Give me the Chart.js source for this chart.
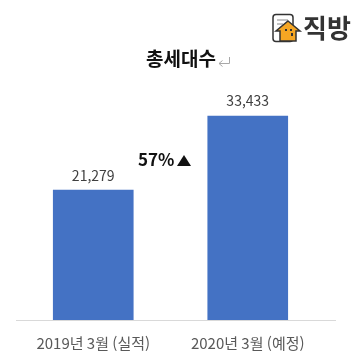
<!DOCTYPE html>
<html lang="ko">
<head>
<meta charset="utf-8">
<title>총세대수</title>
<script src="https://cdn.jsdelivr.net/npm/chart.js@4/dist/chart.umd.min.js"></script>
<style>
  html, body { margin: 0; padding: 0; background: #fff; }
  #wrap { position: relative; width: 358px; height: 355px; }
</style>
</head>
<body>
<div id="wrap"><canvas id="chart" width="358" height="355"></canvas></div>
<script>
const categories = ["2019년 3월 (실적)", "2020년 3월 (예정)"];
const households = [21279, 33433];
const yMax = 40000;
const chartTitle = "총세대수";
const growthLabel = "57%";
const brandName = "직방";

const FONT = '"Noto Sans CJK KR", "Noto Sans", sans-serif';

// value labels above bars, baseline running past the plot, and the text around the chart
const overlay = {
  id: "overlay",
  afterDatasetsDraw(chart) {
    const ctx = chart.ctx;
    const area = chart.chartArea;

    ctx.save();
    ctx.strokeStyle = "#d9d9d9";
    ctx.lineWidth = 1;
    ctx.beginPath();
    ctx.moveTo(16, area.bottom + 0.5);
    ctx.lineTo(336, area.bottom + 0.5);
    ctx.stroke();

    ctx.fillStyle = "#404040";
    ctx.font = "14px " + FONT;
    ctx.textAlign = "center";
    ctx.textBaseline = "bottom";
    chart.getDatasetMeta(0).data.forEach((bar, i) => {
      ctx.fillText(households[i].toLocaleString("en-US"), bar.x, bar.y - 8);
    });

    ctx.fillStyle = "#111";
    ctx.font = "bold 19px " + FONT;
    ctx.textBaseline = "middle";
    ctx.fillText(chartTitle, 181, 59);

    // paragraph mark after the title
    ctx.strokeStyle = "#a8a8a8";
    ctx.beginPath();
    ctx.moveTo(229.5, 57);
    ctx.lineTo(229.5, 63.5);
    ctx.lineTo(219, 63.5);
    ctx.moveTo(222.5, 60.5);
    ctx.lineTo(219, 63.5);
    ctx.lineTo(222.5, 66.5);
    ctx.stroke();

    ctx.fillStyle = "#111";
    ctx.font = "bold 17px " + FONT;
    ctx.textAlign = "left";
    ctx.fillText(growthLabel, 138, 160);
    ctx.beginPath();
    ctx.moveTo(177, 166);
    ctx.lineTo(191, 166);
    ctx.lineTo(184, 155);
    ctx.closePath();
    ctx.fill();

    drawLogo(ctx);
    ctx.restore();
  }
};

function drawLogo(ctx) {
  // sheet behind the house
  ctx.fillStyle = "#fff";
  ctx.strokeStyle = "#333";
  ctx.lineWidth = 1.5;
  ctx.beginPath();
  ctx.roundRect(273, 14.5, 20, 27, 3);
  ctx.fill();
  ctx.stroke();
  ctx.lineWidth = 1;
  ctx.strokeStyle = "#888";
  ctx.beginPath();
  ctx.moveTo(277, 20);
  ctx.lineTo(288, 20);
  ctx.moveTo(277, 24);
  ctx.lineTo(283, 24);
  ctx.stroke();
  // house
  ctx.fillStyle = "#f5a623";
  ctx.strokeStyle = "#333";
  ctx.lineWidth = 1.5;
  ctx.beginPath();
  ctx.moveTo(288, 21);
  ctx.lineTo(300, 31);
  ctx.lineTo(296, 31);
  ctx.lineTo(296, 41);
  ctx.lineTo(280, 41);
  ctx.lineTo(280, 31);
  ctx.lineTo(276, 31);
  ctx.closePath();
  ctx.fill();
  ctx.stroke();
  ctx.fillStyle = "#333";
  ctx.fillRect(285, 29, 2, 2);
  ctx.fillRect(290, 29, 2, 2);
  ctx.fillRect(291, 33, 2, 3);
  // brand name
  ctx.fillStyle = "#333";
  ctx.font = "bold 26px " + FONT;
  ctx.textAlign = "left";
  ctx.textBaseline = "middle";
  ctx.fillText(brandName, 303, 28);
}

new Chart(document.getElementById("chart"), {
  type: "bar",
  data: {
    labels: categories,
    datasets: [{
      data: households,
      backgroundColor: "#4472c4",
      barThickness: 80
    }]
  },
  options: {
    responsive: false,
    animation: false,
    layout: { padding: { left: 16, right: 33, top: 76, bottom: 0 } },
    plugins: { legend: { display: false }, tooltip: { enabled: false } },
    scales: {
      x: {
        // keep the baseline at y=320, label stays just under it
        afterFit(scale) { scale.height = 35; },
        grid: { display: false },
        border: { display: false },
        ticks: { color: "#595959", font: { family: FONT, size: 15 }, padding: 6 }
      },
      y: { display: false, min: 0, max: yMax }
    }
  },
  plugins: [overlay]
});
</script>
</body>
</html>
